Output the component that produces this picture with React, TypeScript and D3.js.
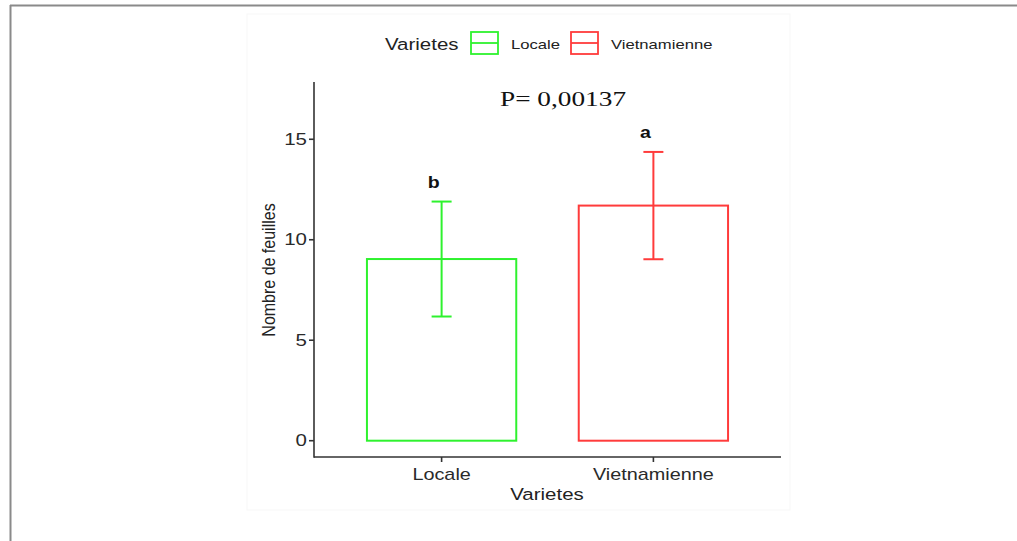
import React from "react";
import * as d3 from "d3";

const categories = ["Locale", "Vietnamienne"];
const means = [9.04, 11.7];
const sds = [2.86, 2.67];
const groupLetters = ["b", "a"];
const colors = ["#2ef22e", "#ff3b3b"];
const yTicks = [0, 5, 10, 15];
const pLabel = "P= 0,00137";

const W = 1017;
const H = 541;
const sans = "'Liberation Sans', Arial, sans-serif";
const SX = 1.24; // horizontal text stretch

type TProps = {
  x: number;
  y: number;
  anchor?: "start" | "middle" | "end";
  size: number;
  fill?: string;
  weight?: string;
  family?: string;
  sx?: number;
  children: React.ReactNode;
};

function WideText({ x, y, anchor = "start", size, fill = "#222", weight = "normal", family = sans, sx = SX, children }: TProps) {
  return (
    <g transform={`translate(${x},${y}) scale(${sx},1)`}>
      <text x={0} y={0} textAnchor={anchor} fontSize={size} fill={fill} fontWeight={weight} fontFamily={family} stroke="none">
        {children}
      </text>
    </g>
  );
}

export default function App() {
  const left = 314;
  const right = 781;
  const axisBottom = 457;
  const yTop = 82;

  const y = d3.scaleLinear().domain([0, 17.85]).range([440.7, yTop]);
  const x = d3
    .scaleBand<string>()
    .domain(categories)
    .range([left, right])
    .paddingInner(0.295)
    .paddingOuter(0.25);

  const capHalf = 10;

  return (
    <svg
      width={W}
      height={H}
      style={{ position: "absolute", left: 0, top: 0, background: "#fff" }}
    >
      {/* outer frame */}
      <line x1={10} y1={5.5} x2={W} y2={5.5} stroke="#8a8a8a" strokeWidth={2} />
      <line x1={10.5} y1={5} x2={10.5} y2={H} stroke="#8a8a8a" strokeWidth={2} />
      {/* plot background */}
      <rect x={247} y={14} width={543} height={496} fill="#fff" stroke="#f7f7f7" />

      {/* legend */}
      <WideText x={385} y={50} size={16.5} fill="#222">Varietes</WideText>
      {categories.map((c, i) => {
        const bx = i === 0 ? 471 : 571;
        return (
          <g key={c}>
            <rect x={bx} y={32} width={27} height={22} fill="none" stroke={colors[i]} strokeWidth={1.8} />
            <line x1={bx} x2={bx + 27} y1={43} y2={43} stroke={colors[i]} strokeWidth={1.8} />
            <WideText x={bx + 40} y={49} size={13} sx={1.28}>{c}</WideText>
          </g>
        );
      })}

      {/* p-value */}
      <WideText
        x={563}
        y={106}
        anchor="middle"
        family="'Liberation Serif', 'Times New Roman', serif"
        size={21}
        fill="#111"
        sx={1.3}
      >
        {pLabel}
      </WideText>

      {/* bars */}
      {categories.map((c, i) => {
        const bx = x(c)!;
        const bw = x.bandwidth();
        const cx = bx + bw / 2;
        const top = y(means[i]);
        const hi = y(means[i] + sds[i]);
        const lo = y(means[i] - sds[i]);
        return (
          <g key={c}>
            <g stroke={colors[i]} strokeWidth={2} fill="none">
              <rect x={bx} y={top} width={bw} height={y(0) - top} />
              <line x1={cx} x2={cx} y1={hi} y2={lo} />
              <line x1={cx - capHalf} x2={cx + capHalf} y1={hi} y2={hi} />
              <line x1={cx - capHalf} x2={cx + capHalf} y1={lo} y2={lo} />
            </g>
            <WideText x={cx - 8} y={hi - 14} anchor="middle" size={17} weight="bold" fill="#111" sx={1.15}>
              {groupLetters[i]}
            </WideText>
          </g>
        );
      })}

      {/* axes */}
      <g stroke="#333" strokeWidth={1.6}>
        <line x1={left} x2={left} y1={yTop} y2={axisBottom + 0.8} />
        <line x1={left} x2={right} y1={axisBottom} y2={axisBottom} />
        {yTicks.map((t) => (
          <line key={t} x1={left - 5} x2={left} y1={y(t)} y2={y(t)} />
        ))}
        {categories.map((c) => {
          const cx = x(c)! + x.bandwidth() / 2;
          return <line key={c} x1={cx} x2={cx} y1={axisBottom} y2={axisBottom + 5} />;
        })}
      </g>
      {yTicks.map((t) => (
        <WideText key={t} x={left - 7} y={y(t) + 5.5} anchor="end" size={16} fill="#2a2a2a" sx={1.28}>
          {t}
        </WideText>
      ))}
      {categories.map((c) => (
        <WideText key={c} x={x(c)! + x.bandwidth() / 2} y={480} anchor="middle" size={16} fill="#2a2a2a">
          {c}
        </WideText>
      ))}
      <WideText x={547} y={500} anchor="middle" size={16.5} fill="#222">
        Varietes
      </WideText>
      <text
        transform={`translate(275, 270) rotate(-90) scale(1, 1.2)`}
        textAnchor="middle"
        fontSize={16}
        fill="#222"
        fontFamily={sans}
      >
        Nombre de feuilles
      </text>
    </svg>
  );
}
